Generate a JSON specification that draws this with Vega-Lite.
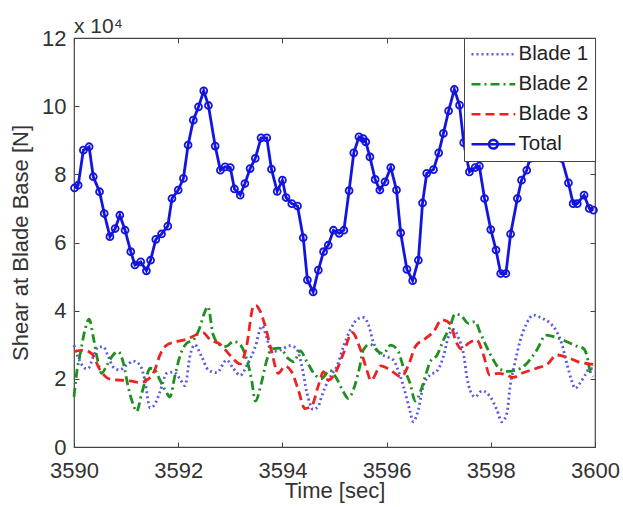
{
  "$schema": "https://vega.github.io/schema/vega-lite/v6.json",
  "width": 521,
  "height": 409,
  "autosize": {"type": "none"},
  "padding": {"left": 74, "top": 38, "right": 28, "bottom": 60},
  "background": "white",
  "title": {"text": "x 10⁴", "anchor": "start", "frame": "group", "font": "Liberation Sans", "fontSize": 21, "fontWeight": "normal", "color": "#333333", "offset": -10},
  "config": {
    "view": {"stroke": "#444444", "strokeWidth": 1.2},
    "axis": {"labelFont": "Liberation Sans", "labelFontSize": 22, "labelColor": "#333333", "titleFont": "Liberation Sans", "titleFontSize": 22, "titleFontWeight": "normal", "titleColor": "#333333", "grid": false, "domain": false, "tickColor": "#444444", "tickSize": -5, "labelOverlap": false, "labelFlush": false},
    "legend": {"labelFont": "Liberation Sans", "labelFontSize": 20.5, "labelColor": "#222222"}
  },
  "datasets": {
    "shear": [
      {"time": 3590.00, "series": "Blade 1", "shear": 29900},
      {"time": 3590.05, "series": "Blade 1", "shear": 27500},
      {"time": 3590.12, "series": "Blade 1", "shear": 25000},
      {"time": 3590.21, "series": "Blade 1", "shear": 23100},
      {"time": 3590.27, "series": "Blade 1", "shear": 23000},
      {"time": 3590.37, "series": "Blade 1", "shear": 26500},
      {"time": 3590.47, "series": "Blade 1", "shear": 29400},
      {"time": 3590.56, "series": "Blade 1", "shear": 29400},
      {"time": 3590.66, "series": "Blade 1", "shear": 26500},
      {"time": 3590.75, "series": "Blade 1", "shear": 23500},
      {"time": 3590.88, "series": "Blade 1", "shear": 22600},
      {"time": 3591.01, "series": "Blade 1", "shear": 24000},
      {"time": 3591.14, "series": "Blade 1", "shear": 25200},
      {"time": 3591.27, "series": "Blade 1", "shear": 24000},
      {"time": 3591.36, "series": "Blade 1", "shear": 19500},
      {"time": 3591.46, "series": "Blade 1", "shear": 11500},
      {"time": 3591.55, "series": "Blade 1", "shear": 12500},
      {"time": 3591.65, "series": "Blade 1", "shear": 16200},
      {"time": 3591.78, "series": "Blade 1", "shear": 21600},
      {"time": 3591.91, "series": "Blade 1", "shear": 22000},
      {"time": 3592.03, "series": "Blade 1", "shear": 20100},
      {"time": 3592.13, "series": "Blade 1", "shear": 18000},
      {"time": 3592.23, "series": "Blade 1", "shear": 27000},
      {"time": 3592.32, "series": "Blade 1", "shear": 30000},
      {"time": 3592.45, "series": "Blade 1", "shear": 26500},
      {"time": 3592.58, "series": "Blade 1", "shear": 22600},
      {"time": 3592.74, "series": "Blade 1", "shear": 21800},
      {"time": 3592.93, "series": "Blade 1", "shear": 25500},
      {"time": 3593.06, "series": "Blade 1", "shear": 23000},
      {"time": 3593.19, "series": "Blade 1", "shear": 21000},
      {"time": 3593.32, "series": "Blade 1", "shear": 24000},
      {"time": 3593.47, "series": "Blade 1", "shear": 29000},
      {"time": 3593.61, "series": "Blade 1", "shear": 35500},
      {"time": 3593.70, "series": "Blade 1", "shear": 32000},
      {"time": 3593.79, "series": "Blade 1", "shear": 28000},
      {"time": 3593.95, "series": "Blade 1", "shear": 28400},
      {"time": 3594.15, "series": "Blade 1", "shear": 29700},
      {"time": 3594.27, "series": "Blade 1", "shear": 28900},
      {"time": 3594.37, "series": "Blade 1", "shear": 24000},
      {"time": 3594.47, "series": "Blade 1", "shear": 16000},
      {"time": 3594.59, "series": "Blade 1", "shear": 11000},
      {"time": 3594.69, "series": "Blade 1", "shear": 12000},
      {"time": 3594.75, "series": "Blade 1", "shear": 14700},
      {"time": 3594.88, "series": "Blade 1", "shear": 19600},
      {"time": 3594.98, "series": "Blade 1", "shear": 22000},
      {"time": 3595.04, "series": "Blade 1", "shear": 23500},
      {"time": 3595.17, "series": "Blade 1", "shear": 29400},
      {"time": 3595.30, "series": "Blade 1", "shear": 34300},
      {"time": 3595.46, "series": "Blade 1", "shear": 37700},
      {"time": 3595.55, "series": "Blade 1", "shear": 38000},
      {"time": 3595.65, "series": "Blade 1", "shear": 36000},
      {"time": 3595.74, "series": "Blade 1", "shear": 31000},
      {"time": 3595.87, "series": "Blade 1", "shear": 27400},
      {"time": 3596.00, "series": "Blade 1", "shear": 26500},
      {"time": 3596.13, "series": "Blade 1", "shear": 25500},
      {"time": 3596.22, "series": "Blade 1", "shear": 22600},
      {"time": 3596.32, "series": "Blade 1", "shear": 18000},
      {"time": 3596.45, "series": "Blade 1", "shear": 10500},
      {"time": 3596.51, "series": "Blade 1", "shear": 7400},
      {"time": 3596.61, "series": "Blade 1", "shear": 11000},
      {"time": 3596.70, "series": "Blade 1", "shear": 17700},
      {"time": 3596.83, "series": "Blade 1", "shear": 21100},
      {"time": 3596.96, "series": "Blade 1", "shear": 22200},
      {"time": 3597.09, "series": "Blade 1", "shear": 26500},
      {"time": 3597.18, "series": "Blade 1", "shear": 32000},
      {"time": 3597.28, "series": "Blade 1", "shear": 34500},
      {"time": 3597.38, "series": "Blade 1", "shear": 32000},
      {"time": 3597.48, "series": "Blade 1", "shear": 27000},
      {"time": 3597.54, "series": "Blade 1", "shear": 20600},
      {"time": 3597.60, "series": "Blade 1", "shear": 16700},
      {"time": 3597.70, "series": "Blade 1", "shear": 14700},
      {"time": 3597.83, "series": "Blade 1", "shear": 16500},
      {"time": 3597.99, "series": "Blade 1", "shear": 14700},
      {"time": 3598.12, "series": "Blade 1", "shear": 10800},
      {"time": 3598.21, "series": "Blade 1", "shear": 7400},
      {"time": 3598.31, "series": "Blade 1", "shear": 10000},
      {"time": 3598.37, "series": "Blade 1", "shear": 17700},
      {"time": 3598.46, "series": "Blade 1", "shear": 24500},
      {"time": 3598.56, "series": "Blade 1", "shear": 31000},
      {"time": 3598.69, "series": "Blade 1", "shear": 36300},
      {"time": 3598.82, "series": "Blade 1", "shear": 38700},
      {"time": 3598.98, "series": "Blade 1", "shear": 37800},
      {"time": 3599.14, "series": "Blade 1", "shear": 36300},
      {"time": 3599.26, "series": "Blade 1", "shear": 34000},
      {"time": 3599.36, "series": "Blade 1", "shear": 30400},
      {"time": 3599.46, "series": "Blade 1", "shear": 24500},
      {"time": 3599.55, "series": "Blade 1", "shear": 19600},
      {"time": 3599.62, "series": "Blade 1", "shear": 17200},
      {"time": 3599.71, "series": "Blade 1", "shear": 18700},
      {"time": 3599.81, "series": "Blade 1", "shear": 21100},
      {"time": 3599.90, "series": "Blade 1", "shear": 23000},
      {"time": 3600.00, "series": "Blade 1", "shear": 23000},

      {"time": 3590.00, "series": "Blade 2", "shear": 14700},
      {"time": 3590.05, "series": "Blade 2", "shear": 21600},
      {"time": 3590.12, "series": "Blade 2", "shear": 27400},
      {"time": 3590.21, "series": "Blade 2", "shear": 34300},
      {"time": 3590.29, "series": "Blade 2", "shear": 37500},
      {"time": 3590.37, "series": "Blade 2", "shear": 32300},
      {"time": 3590.44, "series": "Blade 2", "shear": 26500},
      {"time": 3590.53, "series": "Blade 2", "shear": 21600},
      {"time": 3590.63, "series": "Blade 2", "shear": 24000},
      {"time": 3590.75, "series": "Blade 2", "shear": 27000},
      {"time": 3590.85, "series": "Blade 2", "shear": 28000},
      {"time": 3590.95, "series": "Blade 2", "shear": 24500},
      {"time": 3591.04, "series": "Blade 2", "shear": 17700},
      {"time": 3591.14, "series": "Blade 2", "shear": 12300},
      {"time": 3591.20, "series": "Blade 2", "shear": 10400},
      {"time": 3591.30, "series": "Blade 2", "shear": 15700},
      {"time": 3591.40, "series": "Blade 2", "shear": 21100},
      {"time": 3591.46, "series": "Blade 2", "shear": 23100},
      {"time": 3591.55, "series": "Blade 2", "shear": 22600},
      {"time": 3591.65, "series": "Blade 2", "shear": 19600},
      {"time": 3591.75, "series": "Blade 2", "shear": 16700},
      {"time": 3591.84, "series": "Blade 2", "shear": 14700},
      {"time": 3591.94, "series": "Blade 2", "shear": 21100},
      {"time": 3592.03, "series": "Blade 2", "shear": 26500},
      {"time": 3592.16, "series": "Blade 2", "shear": 30400},
      {"time": 3592.29, "series": "Blade 2", "shear": 31400},
      {"time": 3592.42, "series": "Blade 2", "shear": 35300},
      {"time": 3592.50, "series": "Blade 2", "shear": 39200},
      {"time": 3592.57, "series": "Blade 2", "shear": 41200},
      {"time": 3592.67, "series": "Blade 2", "shear": 33000},
      {"time": 3592.80, "series": "Blade 2", "shear": 30000},
      {"time": 3592.92, "series": "Blade 2", "shear": 29500},
      {"time": 3593.06, "series": "Blade 2", "shear": 31000},
      {"time": 3593.19, "series": "Blade 2", "shear": 30000},
      {"time": 3593.31, "series": "Blade 2", "shear": 26000},
      {"time": 3593.41, "series": "Blade 2", "shear": 19600},
      {"time": 3593.48, "series": "Blade 2", "shear": 13500},
      {"time": 3593.60, "series": "Blade 2", "shear": 19000},
      {"time": 3593.70, "series": "Blade 2", "shear": 25500},
      {"time": 3593.79, "series": "Blade 2", "shear": 28700},
      {"time": 3593.95, "series": "Blade 2", "shear": 29000},
      {"time": 3594.11, "series": "Blade 2", "shear": 26000},
      {"time": 3594.22, "series": "Blade 2", "shear": 25000},
      {"time": 3594.34, "series": "Blade 2", "shear": 28200},
      {"time": 3594.47, "series": "Blade 2", "shear": 25000},
      {"time": 3594.63, "series": "Blade 2", "shear": 21100},
      {"time": 3594.75, "series": "Blade 2", "shear": 20100},
      {"time": 3594.91, "series": "Blade 2", "shear": 22500},
      {"time": 3595.04, "series": "Blade 2", "shear": 20100},
      {"time": 3595.17, "series": "Blade 2", "shear": 16200},
      {"time": 3595.26, "series": "Blade 2", "shear": 14300},
      {"time": 3595.39, "series": "Blade 2", "shear": 18000},
      {"time": 3595.49, "series": "Blade 2", "shear": 24000},
      {"time": 3595.55, "series": "Blade 2", "shear": 28400},
      {"time": 3595.68, "series": "Blade 2", "shear": 30200},
      {"time": 3595.84, "series": "Blade 2", "shear": 28000},
      {"time": 3595.94, "series": "Blade 2", "shear": 27400},
      {"time": 3596.08, "series": "Blade 2", "shear": 29900},
      {"time": 3596.22, "series": "Blade 2", "shear": 28200},
      {"time": 3596.32, "series": "Blade 2", "shear": 23500},
      {"time": 3596.45, "series": "Blade 2", "shear": 18700},
      {"time": 3596.55, "series": "Blade 2", "shear": 13500},
      {"time": 3596.66, "series": "Blade 2", "shear": 16700},
      {"time": 3596.76, "series": "Blade 2", "shear": 21600},
      {"time": 3596.83, "series": "Blade 2", "shear": 24800},
      {"time": 3596.97, "series": "Blade 2", "shear": 27000},
      {"time": 3597.09, "series": "Blade 2", "shear": 31400},
      {"time": 3597.22, "series": "Blade 2", "shear": 35300},
      {"time": 3597.31, "series": "Blade 2", "shear": 39000},
      {"time": 3597.41, "series": "Blade 2", "shear": 38800},
      {"time": 3597.57, "series": "Blade 2", "shear": 36300},
      {"time": 3597.70, "series": "Blade 2", "shear": 36800},
      {"time": 3597.79, "series": "Blade 2", "shear": 33800},
      {"time": 3597.92, "series": "Blade 2", "shear": 29400},
      {"time": 3598.05, "series": "Blade 2", "shear": 25500},
      {"time": 3598.18, "series": "Blade 2", "shear": 22800},
      {"time": 3598.34, "series": "Blade 2", "shear": 22200},
      {"time": 3598.50, "series": "Blade 2", "shear": 22600},
      {"time": 3598.69, "series": "Blade 2", "shear": 24500},
      {"time": 3598.88, "series": "Blade 2", "shear": 28400},
      {"time": 3599.06, "series": "Blade 2", "shear": 32800},
      {"time": 3599.26, "series": "Blade 2", "shear": 32100},
      {"time": 3599.46, "series": "Blade 2", "shear": 30900},
      {"time": 3599.65, "series": "Blade 2", "shear": 29600},
      {"time": 3599.78, "series": "Blade 2", "shear": 28900},
      {"time": 3599.85, "series": "Blade 2", "shear": 26500},
      {"time": 3599.90, "series": "Blade 2", "shear": 22600},
      {"time": 3599.96, "series": "Blade 2", "shear": 20600},

      {"time": 3590.00, "series": "Blade 3", "shear": 28000},
      {"time": 3590.18, "series": "Blade 3", "shear": 28400},
      {"time": 3590.34, "series": "Blade 3", "shear": 27400},
      {"time": 3590.50, "series": "Blade 3", "shear": 22600},
      {"time": 3590.69, "series": "Blade 3", "shear": 19900},
      {"time": 3590.88, "series": "Blade 3", "shear": 19600},
      {"time": 3591.07, "series": "Blade 3", "shear": 19400},
      {"time": 3591.27, "series": "Blade 3", "shear": 18900},
      {"time": 3591.40, "series": "Blade 3", "shear": 19600},
      {"time": 3591.55, "series": "Blade 3", "shear": 22600},
      {"time": 3591.65, "series": "Blade 3", "shear": 27000},
      {"time": 3591.78, "series": "Blade 3", "shear": 29900},
      {"time": 3591.97, "series": "Blade 3", "shear": 30900},
      {"time": 3592.16, "series": "Blade 3", "shear": 31600},
      {"time": 3592.36, "series": "Blade 3", "shear": 33000},
      {"time": 3592.48, "series": "Blade 3", "shear": 33500},
      {"time": 3592.61, "series": "Blade 3", "shear": 31500},
      {"time": 3592.80, "series": "Blade 3", "shear": 30200},
      {"time": 3592.99, "series": "Blade 3", "shear": 27000},
      {"time": 3593.19, "series": "Blade 3", "shear": 24400},
      {"time": 3593.31, "series": "Blade 3", "shear": 29400},
      {"time": 3593.44, "series": "Blade 3", "shear": 41100},
      {"time": 3593.49, "series": "Blade 3", "shear": 41600},
      {"time": 3593.54, "series": "Blade 3", "shear": 40800},
      {"time": 3593.67, "series": "Blade 3", "shear": 35500},
      {"time": 3593.79, "series": "Blade 3", "shear": 28200},
      {"time": 3593.92, "series": "Blade 3", "shear": 21600},
      {"time": 3594.05, "series": "Blade 3", "shear": 23700},
      {"time": 3594.18, "series": "Blade 3", "shear": 22000},
      {"time": 3594.31, "series": "Blade 3", "shear": 16500},
      {"time": 3594.43, "series": "Blade 3", "shear": 11300},
      {"time": 3594.56, "series": "Blade 3", "shear": 12000},
      {"time": 3594.69, "series": "Blade 3", "shear": 18000},
      {"time": 3594.79, "series": "Blade 3", "shear": 22100},
      {"time": 3594.88, "series": "Blade 3", "shear": 19600},
      {"time": 3595.01, "series": "Blade 3", "shear": 21600},
      {"time": 3595.17, "series": "Blade 3", "shear": 27400},
      {"time": 3595.34, "series": "Blade 3", "shear": 33600},
      {"time": 3595.49, "series": "Blade 3", "shear": 29000},
      {"time": 3595.62, "series": "Blade 3", "shear": 22600},
      {"time": 3595.70, "series": "Blade 3", "shear": 19500},
      {"time": 3595.89, "series": "Blade 3", "shear": 23800},
      {"time": 3596.07, "series": "Blade 3", "shear": 22600},
      {"time": 3596.28, "series": "Blade 3", "shear": 20600},
      {"time": 3596.42, "series": "Blade 3", "shear": 24000},
      {"time": 3596.55, "series": "Blade 3", "shear": 29400},
      {"time": 3596.76, "series": "Blade 3", "shear": 32000},
      {"time": 3596.90, "series": "Blade 3", "shear": 33800},
      {"time": 3597.06, "series": "Blade 3", "shear": 37300},
      {"time": 3597.22, "series": "Blade 3", "shear": 36200},
      {"time": 3597.33, "series": "Blade 3", "shear": 31000},
      {"time": 3597.44, "series": "Blade 3", "shear": 28700},
      {"time": 3597.57, "series": "Blade 3", "shear": 30400},
      {"time": 3597.73, "series": "Blade 3", "shear": 31400},
      {"time": 3597.86, "series": "Blade 3", "shear": 27000},
      {"time": 3597.98, "series": "Blade 3", "shear": 21100},
      {"time": 3598.14, "series": "Blade 3", "shear": 21600},
      {"time": 3598.31, "series": "Blade 3", "shear": 21100},
      {"time": 3598.43, "series": "Blade 3", "shear": 20400},
      {"time": 3598.62, "series": "Blade 3", "shear": 21800},
      {"time": 3598.88, "series": "Blade 3", "shear": 23100},
      {"time": 3599.10, "series": "Blade 3", "shear": 24500},
      {"time": 3599.26, "series": "Blade 3", "shear": 27000},
      {"time": 3599.52, "series": "Blade 3", "shear": 26000},
      {"time": 3599.68, "series": "Blade 3", "shear": 25000},
      {"time": 3599.84, "series": "Blade 3", "shear": 24500},
      {"time": 3600.00, "series": "Blade 3", "shear": 24200},

      {"time": 3590.01, "series": "Total", "shear": 76000},
      {"time": 3590.08, "series": "Total", "shear": 76800},
      {"time": 3590.18, "series": "Total", "shear": 87100},
      {"time": 3590.29, "series": "Total", "shear": 88100},
      {"time": 3590.37, "series": "Total", "shear": 79300},
      {"time": 3590.49, "series": "Total", "shear": 74900},
      {"time": 3590.58, "series": "Total", "shear": 68500},
      {"time": 3590.69, "series": "Total", "shear": 61700},
      {"time": 3590.79, "series": "Total", "shear": 64100},
      {"time": 3590.88, "series": "Total", "shear": 68000},
      {"time": 3590.98, "series": "Total", "shear": 63600},
      {"time": 3591.09, "series": "Total", "shear": 57300},
      {"time": 3591.17, "series": "Total", "shear": 53400},
      {"time": 3591.28, "series": "Total", "shear": 54300},
      {"time": 3591.39, "series": "Total", "shear": 51700},
      {"time": 3591.47, "series": "Total", "shear": 54800},
      {"time": 3591.57, "series": "Total", "shear": 60900},
      {"time": 3591.68, "series": "Total", "shear": 62500},
      {"time": 3591.80, "series": "Total", "shear": 64800},
      {"time": 3591.88, "series": "Total", "shear": 72900},
      {"time": 3592.00, "series": "Total", "shear": 75400},
      {"time": 3592.10, "series": "Total", "shear": 78800},
      {"time": 3592.19, "series": "Total", "shear": 88600},
      {"time": 3592.29, "series": "Total", "shear": 95900},
      {"time": 3592.39, "series": "Total", "shear": 99800},
      {"time": 3592.49, "series": "Total", "shear": 104500},
      {"time": 3592.58, "series": "Total", "shear": 100200},
      {"time": 3592.71, "series": "Total", "shear": 88300},
      {"time": 3592.81, "series": "Total", "shear": 81200},
      {"time": 3592.90, "series": "Total", "shear": 82200},
      {"time": 3593.00, "series": "Total", "shear": 82000},
      {"time": 3593.08, "series": "Total", "shear": 75700},
      {"time": 3593.19, "series": "Total", "shear": 73900},
      {"time": 3593.28, "series": "Total", "shear": 77300},
      {"time": 3593.38, "series": "Total", "shear": 81700},
      {"time": 3593.48, "series": "Total", "shear": 84700},
      {"time": 3593.59, "series": "Total", "shear": 90700},
      {"time": 3593.70, "series": "Total", "shear": 90700},
      {"time": 3593.79, "series": "Total", "shear": 81500},
      {"time": 3593.90, "series": "Total", "shear": 75000},
      {"time": 3594.00, "series": "Total", "shear": 78300},
      {"time": 3594.07, "series": "Total", "shear": 73200},
      {"time": 3594.18, "series": "Total", "shear": 71400},
      {"time": 3594.29, "series": "Total", "shear": 70700},
      {"time": 3594.40, "series": "Total", "shear": 61400},
      {"time": 3594.48, "series": "Total", "shear": 49000},
      {"time": 3594.59, "series": "Total", "shear": 45500},
      {"time": 3594.69, "series": "Total", "shear": 51900},
      {"time": 3594.79, "series": "Total", "shear": 57300},
      {"time": 3594.88, "series": "Total", "shear": 59200},
      {"time": 3594.98, "series": "Total", "shear": 63600},
      {"time": 3595.09, "series": "Total", "shear": 62700},
      {"time": 3595.18, "series": "Total", "shear": 63600},
      {"time": 3595.28, "series": "Total", "shear": 75200},
      {"time": 3595.37, "series": "Total", "shear": 86300},
      {"time": 3595.47, "series": "Total", "shear": 91000},
      {"time": 3595.55, "series": "Total", "shear": 90500},
      {"time": 3595.60, "series": "Total", "shear": 89500},
      {"time": 3595.68, "series": "Total", "shear": 85100},
      {"time": 3595.78, "series": "Total", "shear": 78500},
      {"time": 3595.87, "series": "Total", "shear": 75400},
      {"time": 3595.97, "series": "Total", "shear": 77800},
      {"time": 3596.08, "series": "Total", "shear": 82000},
      {"time": 3596.19, "series": "Total", "shear": 75400},
      {"time": 3596.27, "series": "Total", "shear": 62800},
      {"time": 3596.39, "series": "Total", "shear": 52100},
      {"time": 3596.50, "series": "Total", "shear": 48800},
      {"time": 3596.61, "series": "Total", "shear": 54800},
      {"time": 3596.69, "series": "Total", "shear": 71600},
      {"time": 3596.77, "series": "Total", "shear": 80300},
      {"time": 3596.90, "series": "Total", "shear": 81400},
      {"time": 3597.00, "series": "Total", "shear": 86300},
      {"time": 3597.09, "series": "Total", "shear": 92000},
      {"time": 3597.19, "series": "Total", "shear": 98600},
      {"time": 3597.30, "series": "Total", "shear": 104900},
      {"time": 3597.40, "series": "Total", "shear": 100300},
      {"time": 3597.48, "series": "Total", "shear": 89300},
      {"time": 3597.59, "series": "Total", "shear": 80700},
      {"time": 3597.70, "series": "Total", "shear": 82000},
      {"time": 3597.78, "series": "Total", "shear": 82400},
      {"time": 3597.88, "series": "Total", "shear": 72900},
      {"time": 3598.00, "series": "Total", "shear": 63800},
      {"time": 3598.10, "series": "Total", "shear": 57800},
      {"time": 3598.19, "series": "Total", "shear": 50900},
      {"time": 3598.29, "series": "Total", "shear": 50900},
      {"time": 3598.38, "series": "Total", "shear": 62500},
      {"time": 3598.51, "series": "Total", "shear": 72900},
      {"time": 3598.59, "series": "Total", "shear": 78300},
      {"time": 3598.69, "series": "Total", "shear": 81200},
      {"time": 3598.75, "series": "Total", "shear": 84700},
      {"time": 3598.85, "series": "Total", "shear": 89500},
      {"time": 3598.95, "series": "Total", "shear": 92500},
      {"time": 3599.05, "series": "Total", "shear": 91500},
      {"time": 3599.15, "series": "Total", "shear": 89500},
      {"time": 3599.25, "series": "Total", "shear": 87500},
      {"time": 3599.36, "series": "Total", "shear": 84700},
      {"time": 3599.49, "series": "Total", "shear": 77500},
      {"time": 3599.58, "series": "Total", "shear": 71400},
      {"time": 3599.66, "series": "Total", "shear": 71400},
      {"time": 3599.79, "series": "Total", "shear": 73900},
      {"time": 3599.89, "series": "Total", "shear": 70000},
      {"time": 3599.97, "series": "Total", "shear": 69500}
    ]
  },
  "data": {"name": "shear"},
  "layer": [
    {
      "transform": [{"filter": "datum.series !== 'Total'"}],
      "mark": {"type": "line", "interpolate": "monotone", "strokeWidth": 2.8},
      "encoding": {
        "x": {"field": "time", "type": "quantitative", "scale": {"domain": [3590, 3600], "nice": false, "zero": false},
              "axis": {"orient": "bottom", "title": "Time [sec]", "values": [3590, 3592, 3594, 3596, 3598, 3600], "format": "d", "labelPadding": 18, "titlePadding": -1}},
        "y": {"field": "shear", "type": "quantitative", "scale": {"domain": [0, 120000], "nice": false},
              "axis": {"orient": "left", "title": "Shear at Blade Base [N]", "values": [0, 20000, 40000, 60000, 80000, 100000, 120000], "labelExpr": "datum.value / 10000", "labelPadding": 13, "titlePadding": 9,
                       "encode": {"labels": {"update": {"dy": {"signal": "datum.value === 0 ? -6 : 0"}}}}}},
        "color": {"field": "series", "type": "nominal",
                  "scale": {"domain": ["Blade 1", "Blade 2", "Blade 3", "Total"], "range": ["#5a5ae6", "#1f8f1f", "#ee2222", "#1414e0"]},
                  "legend": {"title": null, "orient": "top-right", "offset": 0, "fillColor": "white", "strokeColor": "#444444", "padding": 6, "rowPadding": 9, "symbolSize": 306, "symbolStrokeWidth": 2.5, "labelOffset": 28, "symbolType": "M-1,0H4",
                             "encode": {"symbols": {"update": {"shape": {"signal": "datum.value === 'Total' ? 'M-1,0H4M2,0A0.5,0.5,0,1,1,1,0A0.5,0.5,0,1,1,2,0' : 'M-1,0H4'"}}}}}},
        "strokeDash": {"field": "series", "type": "nominal",
                       "scale": {"domain": ["Blade 1", "Blade 2", "Blade 3", "Total"], "range": [[2, 3], [9, 4, 2, 4], [9, 5], [1, 0]]}}
      }
    },
    {
      "transform": [{"filter": "datum.series === 'Total'"}],
      "mark": {"type": "line", "strokeWidth": 2.8},
      "encoding": {
        "x": {"field": "time", "type": "quantitative", "axis": null},
        "y": {"field": "shear", "type": "quantitative", "axis": null},
        "color": {"field": "series", "type": "nominal"},
        "strokeDash": {"field": "series", "type": "nominal"}
      }
    },
    {
      "transform": [{"filter": "datum.series === 'Total'"}],
      "mark": {"type": "point", "shape": "circle", "filled": false, "size": 48, "strokeWidth": 1.8, "color": "#1414e0", "opacity": 1},
      "encoding": {
        "x": {"field": "time", "type": "quantitative",
              "axis": {"orient": "top", "title": null, "labels": false, "values": [3590, 3592, 3594, 3596, 3598, 3600]}},
        "y": {"field": "shear", "type": "quantitative",
              "axis": {"orient": "right", "title": null, "labels": false, "values": [0, 20000, 40000, 60000, 80000, 100000, 120000]}}
      }
    }
  ],
  "resolve": {"axis": {"x": "independent", "y": "independent"}}
}
